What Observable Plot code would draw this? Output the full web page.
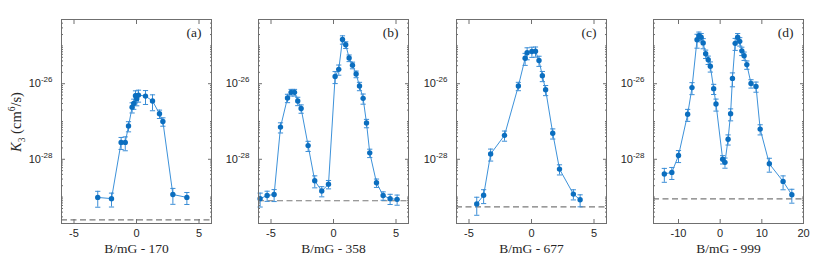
<!DOCTYPE html>
<html><head><meta charset="utf-8">
<script src="https://cdn.jsdelivr.net/npm/d3@7"></script>
<script src="https://cdn.jsdelivr.net/npm/@observablehq/plot@0.6"></script>
<style>
body{margin:0;background:#fff;}
#wrap{position:relative;width:830px;height:256px;overflow:hidden;background:#fff;}
.panel{position:absolute;top:0;}
#ylab{position:absolute;left:17px;top:122px;transform:translate(-50%,-50%) rotate(-90deg);white-space:nowrap;font-family:"Liberation Serif",serif;font-size:14.5px;color:#262626;}
#ylab sub,#ylab sup{font-size:9.5px;}
.panel text.serif{font-family:"Liberation Serif",serif !important;}
</style>
</head><body>
<div id="wrap"><div id="ylab"><i>K</i><sub>3</sub> (cm<sup>6</sup>/s)</div></div>
<script>
// ---- data ----
const panelLetters = ["(a)", "(b)", "(c)", "(d)"];
const xLabels = ["B/mG - 170", "B/mG - 358", "B/mG - 677", "B/mG - 999"];
const xTicksABC = [-5, 0, 5];
const xTicksD = [-10, 0, 10, 20];
const yTickLabels = [1e-26, 1e-28];
const floorK = [2.5e-30, 8e-30, 5.5e-30, 9e-30];

const xA = [-3.1, -2.0, -1.23, -0.9, -0.64, -0.35, -0.22, -0.08, 0.02, 0.16, 0.72, 1.28, 1.84, 2.11, 2.91, 4.03];
const kA = [9.8e-30, 9.1e-30, 2.8e-28, 2.8e-28, 7.6e-28, 2.4e-27, 3.0e-27, 4.8e-27, 4.0e-27, 5.0e-27, 4.7e-27, 3.5e-27, 1.6e-27, 1.0e-27, 1.17e-29, 9.8e-30];
const eA = [0.45, 0.4, 0.35, 0.4, 0.3, 0.3, 0.3, 0.35, 0.35, 0.35, 0.4, 0.45, 0.25, 0.25, 0.45, 0.35];

const xB = [-5.87, -5.31, -4.75, -4.24, -3.68, -3.39, -3.12, -2.86, -2.59, -2.03, -1.5, -0.94, -0.4, 0.13, 0.42, 0.72, 0.98, 1.25, 1.52, 1.81, 2.08, 2.37, 2.64, 2.9, 3.44, 3.97, 4.53, 5.09];
const kB = [9.1e-30, 1.1e-29, 1.17e-29, 7.1e-28, 4.2e-27, 5.9e-27, 5.9e-27, 3.5e-27, 2.2e-27, 2.3e-28, 2.7e-29, 1.45e-29, 2.2e-29, 1.55e-26, 2.4e-26, 1.48e-25, 1.07e-25, 4.8e-26, 3.1e-26, 1.8e-26, 8.7e-27, 4.1e-27, 9.1e-28, 1.48e-28, 2.4e-29, 1.1e-29, 9.1e-30, 8.7e-30];
const eB = [0.4, 0.3, 0.35, 0.3, 0.25, 0.2, 0.2, 0.25, 0.25, 0.3, 0.35, 0.3, 0.25, 0.35, 0.3, 0.25, 0.2, 0.2, 0.2, 0.2, 0.25, 0.3, 0.25, 0.25, 0.25, 0.25, 0.3, 0.3];

const xC = [-4.38, -3.83, -3.27, -2.16, -1.05, -0.51, -0.35, 0.03, 0.32, 0.6, 0.87, 1.13, 1.7, 2.24, 3.35, 3.89];
const kC = [6.6e-30, 1.12e-29, 1.38e-28, 4.3e-28, 8.7e-27, 4.7e-26, 6.6e-26, 7.1e-26, 7.2e-26, 4.1e-26, 1.62e-26, 6.9e-27, 4.9e-28, 5.5e-29, 1.2e-29, 8.5e-30];
const eC = [0.5, 0.4, 0.35, 0.3, 0.25, 0.35, 0.35, 0.3, 0.3, 0.3, 0.3, 0.3, 0.3, 0.3, 0.3, 0.35];

const xD = [-13.4, -11.6, -10.0, -7.8, -6.76, -5.55, -5.1, -4.56, -4.08, -3.48, -2.87, -2.36, -1.56, -1.0, 0.6, 1.15, 1.9, 2.5, 2.95, 3.6, 4.2, 4.7, 5.2, 5.75, 6.4, 7.4, 8.6, 9.6, 11.8, 15.1, 17.2];
const kD = [4.1e-29, 4.5e-29, 1.26e-28, 1.55e-27, 7.9e-27, 1.45e-25, 1.86e-25, 1.7e-25, 1.2e-25, 6.2e-26, 4.3e-26, 2.9e-26, 7.4e-27, 2.9e-27, 1.0e-28, 8.3e-29, 3.4e-28, 1.6e-27, 1.38e-26, 1.17e-25, 1.7e-25, 1.32e-25, 7.4e-26, 5.5e-26, 3.2e-26, 1.02e-26, 8.5e-27, 6.3e-28, 7.6e-29, 2.6e-29, 1.15e-29];
const eD = [0.4, 0.35, 0.35, 0.35, 0.35, 0.4, 0.25, 0.25, 0.3, 0.25, 0.25, 0.3, 0.3, 0.35, 0.25, 0.3, 0.3, 0.35, 0.4, 0.35, 0.25, 0.25, 0.25, 0.25, 0.25, 0.25, 0.3, 0.3, 0.4, 0.4, 0.4];

// ---- layout / style ----
const frameLefts = [60.5, 257.7, 455.7, 653.3];
const xDomains = [[-6, 6], [-6, 6], [-6, 6], [-16, 20]];
const yDomain = [2e-30, 5e-25];
const frameColor = "#6f6f6f";
const lineColor = "#3d92da";
const barColor = "#3a8dd6";
const dotColor = "#0b6ebf";

const majorY = [];
const minorY = [];
for (let d = -30; d <= -25; d++) {
  for (let m = 1; m <= 9; m++) {
    const v = m * Math.pow(10, d);
    if (v < yDomain[0] || v > yDomain[1]) continue;
    if (m === 1 && (d === -26 || d === -28)) majorY.push(v); else minorY.push(v);
  }
}

const cap = {draw(ctx, size) { const w = Math.sqrt(size / Math.PI); ctx.moveTo(-w, 0); ctx.lineTo(w, 0); }};

function makePanel(i, xs, ks, es) {
  const data = xs.map((x, j) => ({x, K: ks[j], e: es[j]}));
  const xt = i === 3 ? xTicksD : xTicksABC;
  const plot = Plot.plot({
    width: 218,
    height: 256,
    marginLeft: 58,
    marginRight: 10,
    marginTop: 19,
    marginBottom: 33,
    style: {fontFamily: "'Liberation Sans', Arial, sans-serif", fontSize: "11px", color: "#262626", background: "transparent"},
    x: {domain: xDomains[i]},
    y: {type: "log", domain: yDomain},
    marks: [
      Plot.ruleY([floorK[i]], {stroke: "#7a7a7a", strokeWidth: 1.2, strokeDasharray: "6,3.5"}),
      Plot.line(data, {x: "x", y: "K", stroke: lineColor, strokeWidth: 1}),
      Plot.ruleX(data, {x: "x", y1: d => d.K * (1 - d.e), y2: d => d.K * (1 + d.e), stroke: barColor, strokeWidth: 1}),
      Plot.dot(data, {x: "x", y: d => d.K * (1 - d.e), symbol: cap, r: 2.6, fill: "none", stroke: barColor, strokeWidth: 1}),
      Plot.dot(data, {x: "x", y: d => d.K * (1 + d.e), symbol: cap, r: 2.6, fill: "none", stroke: barColor, strokeWidth: 1}),
      Plot.dot(data, {x: "x", y: "K", r: 2.7, fill: dotColor, stroke: "none"}),
      Plot.frame({stroke: frameColor, strokeWidth: 1}),
      Plot.axisX(xt, {anchor: "bottom", tickSize: -4, fill: "none", stroke: frameColor, label: null}),
      Plot.axisX(xt, {anchor: "top", tickSize: -4, fill: "none", stroke: frameColor, label: null}),
      Plot.axisX(xt, {anchor: "bottom", tickSize: 0, tickPadding: 6, tickFormat: d => String(d), label: null, fill: "#262626"}),
      Plot.axisY(minorY, {anchor: "left", tickSize: -2, fill: "none", stroke: frameColor, label: null}),
      Plot.axisY(minorY, {anchor: "right", tickSize: -2, fill: "none", stroke: frameColor, label: null}),
      Plot.axisY(majorY, {anchor: "left", tickSize: -4, fill: "none", stroke: frameColor, label: null}),
      Plot.axisY(majorY, {anchor: "right", tickSize: -4, fill: "none", stroke: frameColor, label: null}),
      Plot.axisY(yTickLabels, {anchor: "left", tickSize: 0, tickPadding: 9, tickFormat: d => "10^" + Math.round(Math.log10(d)), label: null, fill: "#262626"}),
      Plot.text([xLabels[i]], {frameAnchor: "bottom", dy: 29, lineAnchor: "bottom", text: d => d, fontSize: 13.5, fill: "#262626"}),
      Plot.text([panelLetters[i]], {frameAnchor: "top-right", dx: -10, dy: 8, lineAnchor: "top", textAnchor: "end", text: d => d, fontSize: 13.5, fill: "#262626"})
    ]
  });
  plot.classList.add("panel");
  plot.style.left = (frameLefts[i] - 58) + "px";
  // serif font for the axis title and the panel letter
  d3.select(plot).selectAll('g[aria-label="text"] text')
    .classed("serif", true)
    .style("font-family", "'Liberation Serif', serif");
  // superscript exponents on the y tick labels
  d3.select(plot).selectAll('g[aria-label="y-axis tick label"] text').each(function() {
    const t = this.textContent;
    const parts = t.split("^");
    if (parts.length === 2) {
      this.textContent = parts[0];
      d3.select(this).append("tspan").attr("dy", "-5").attr("font-size", "8px").text(parts[1]);
    }
  });
  return plot;
}

const wrap = document.getElementById("wrap");
wrap.appendChild(makePanel(0, xA, kA, eA));
wrap.appendChild(makePanel(1, xB, kB, eB));
wrap.appendChild(makePanel(2, xC, kC, eC));
wrap.appendChild(makePanel(3, xD, kD, eD));
</script>
</body></html>
